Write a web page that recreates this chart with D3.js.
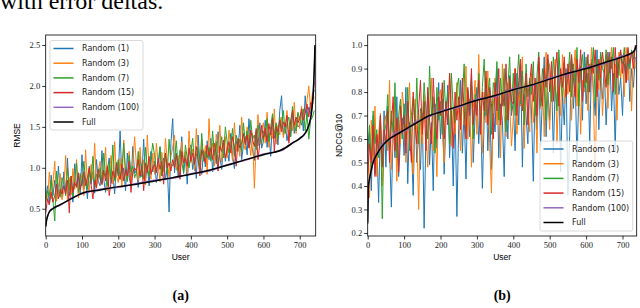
<!DOCTYPE html>
<html>
<head>
<meta charset="utf-8">
<script src="https://cdn.jsdelivr.net/npm/d3@7"></script>
<style>
body { margin: 0; background: #fff; }
svg { display: block; }
</style>
</head>
<body>
<div id="fig"></div>
<script>
// users, sorted by the error of the full model (sampled every 5th user)
var usersA = d3.range(0, 745, 5);
var usersB = d3.range(0, 740, 5);

var names = ["Random (1)", "Random (3)", "Random (7)", "Random (15)", "Random (100)", "Full"];
var colors = ["#1f77b4", "#ff7f0e", "#2ca02c", "#d62728", "#9467bd", "#000000"];

var xTicks = [0, 100, 200, 300, 400, 500, 600, 700];
var rmseTicks = [0.5, 1.0, 1.5, 2.0, 2.5];
var ndcgTicks = [0.2, 0.3, 0.4, 0.5, 0.6, 0.7, 0.8, 0.9, 1.0];

// ---- (a) RMSE ----
var fullUsersA = [0, 3, 6, 10, 20, 40, 70, 100, 150, 200, 250, 300, 350, 400, 450, 500, 550, 600, 650, 680, 700, 715, 725, 732, 737, 740, 742];
var fullRmse   = [0.28, 0.37, 0.42, 0.46, 0.50, 0.55, 0.62, 0.69, 0.73, 0.77, 0.80, 0.84, 0.88, 0.92, 0.97, 1.03, 1.10, 1.16, 1.22, 1.30, 1.36, 1.42, 1.52, 1.66, 1.90, 2.20, 2.50];
var rmse100    = [0.29, 0.38, 0.41, 0.47, 0.51, 0.54, 0.63, 0.68, 0.74, 0.76, 0.81, 0.85, 0.87, 0.93, 0.96, 1.04, 1.09, 1.17, 1.21, 1.31, 1.35, 1.43, 1.51, 1.67, 1.89, 2.18, 2.48];

var rmse1 = [0.62,0.78,0.55,0.91,0.66,0.85,0.60,1.02,0.72,0.64,
  0.95,0.70,1.12,0.66,0.81,0.58,1.05,0.77,0.90,0.68,
  1.16,0.74,0.88,0.62,1.02,0.80,0.95,0.69,1.10,0.83,
  0.78,1.21,0.86,0.70,0.98,1.12,0.81,0.92,0.68,1.07,
  0.90,1.45,0.84,1.00,0.72,1.18,0.88,0.79,1.26,0.93,
  0.97,0.76,1.14,0.89,1.35,0.84,1.03,0.78,1.20,0.95,
  1.08,0.82,0.98,1.25,0.90,1.12,0.85,1.01,0.46,1.30,
  1.60,0.94,1.18,0.88,1.07,1.38,0.93,1.15,0.80,1.22,
  1.28,0.98,1.12,0.87,1.40,1.05,0.92,1.21,1.01,1.33,
  1.10,1.36,0.95,1.22,1.05,1.44,1.13,0.98,1.30,1.08,
  1.24,1.08,1.42,1.15,0.99,1.33,1.20,1.52,1.10,1.28,
  1.38,1.16,1.60,1.30,1.22,1.09,1.45,1.27,1.55,1.24,
  1.32,1.58,1.25,1.43,1.14,1.62,1.36,1.48,1.28,1.70,
  1.88,1.40,1.55,1.33,1.46,1.38,1.65,1.42,1.58,1.50,
  1.52,1.68,1.45,1.88,1.62,1.74,1.66,1.85,1.95];
var rmse3 = [0.70,0.58,0.95,0.62,0.82,1.08,0.59,0.76,0.93,0.61,
  0.72,1.15,0.60,0.88,0.67,0.99,0.74,1.10,0.63,0.85,
  0.91,0.66,1.22,0.78,0.72,1.04,0.86,1.30,0.75,0.96,
  1.08,0.79,0.93,1.25,0.72,0.88,1.15,0.80,1.32,0.90,
  0.82,1.12,0.76,1.34,0.95,0.85,1.20,0.79,1.05,1.38,
  1.02,0.84,1.25,0.92,1.10,0.79,1.40,0.96,0.86,1.18,
  0.92,1.30,1.05,0.83,1.19,0.95,1.36,1.08,0.89,1.14,
  1.25,1.40,0.97,1.15,0.88,1.32,1.04,1.20,0.93,1.45,
  1.06,1.23,0.96,1.48,1.12,0.99,1.35,1.10,1.27,0.92,
  1.60,1.12,1.30,1.02,1.41,1.18,1.52,1.07,1.25,1.38,
  1.12,1.46,1.25,1.08,1.55,1.20,1.36,1.14,1.62,1.30,
  1.22,1.50,1.35,1.15,1.42,0.75,1.30,1.65,1.28,1.46,
  1.55,1.30,1.68,1.25,1.44,1.36,1.72,1.29,1.52,1.40,
  1.62,1.37,1.50,1.70,1.33,1.58,1.45,1.80,1.42,1.66,
  1.48,1.75,1.58,1.68,1.82,2.00,1.70,1.92,1.85];
var rmse7 = [0.58,0.72,0.66,0.85,0.60,0.35,0.96,0.70,0.64,0.88,
  0.80,0.66,1.00,0.73,0.90,0.64,0.84,1.06,0.70,0.93,
  0.78,1.08,0.85,0.74,0.98,0.82,1.14,0.76,0.92,0.88,
  1.00,0.82,1.18,0.90,0.78,1.06,0.86,1.28,0.84,0.97,
  1.10,0.86,1.00,1.30,0.92,0.83,1.15,0.95,1.02,0.88,
  0.94,1.20,0.88,1.05,0.86,1.25,0.99,0.90,1.12,1.30,
  1.15,0.95,1.08,1.26,0.90,1.02,1.18,0.93,1.35,1.05,
  1.02,1.10,1.33,0.96,1.22,1.06,0.94,1.28,1.12,1.00,
  1.18,1.36,1.04,1.14,1.25,0.98,1.42,1.08,1.20,1.12,
  1.25,1.08,1.45,1.15,1.32,1.05,1.22,1.38,1.12,1.50,
  1.32,1.18,1.28,1.48,1.14,1.40,1.25,1.35,1.20,1.55,
  1.30,1.45,1.25,1.58,1.35,1.40,1.22,1.52,1.38,1.30,
  1.45,1.38,1.60,1.32,1.50,1.66,1.40,1.55,1.35,1.62,
  1.48,1.70,1.42,1.55,1.62,1.38,1.75,1.50,1.45,1.68,
  1.60,1.52,1.72,1.45,1.66,1.35,1.58,1.62,1.70];
var rmse15 = [0.45,0.62,0.55,0.70,0.58,0.66,0.80,0.62,0.74,0.68,
  0.78,0.68,0.85,0.45,0.90,0.70,0.82,0.76,0.94,0.73,
  0.82,0.95,0.78,0.88,1.00,0.80,0.62,0.85,0.76,0.98,
  0.86,0.80,0.97,0.84,1.02,0.66,0.82,0.96,0.88,1.05,
  0.92,0.86,1.04,0.84,0.98,0.90,1.08,0.70,0.95,1.00,
  0.96,1.10,0.90,1.02,0.72,1.06,0.94,1.14,0.92,1.00,
  1.04,0.94,1.12,0.98,1.08,0.80,1.18,1.00,1.06,0.96,
  1.10,1.00,1.16,1.04,0.86,1.20,1.06,1.12,1.02,1.24,
  1.08,1.18,1.04,1.26,1.10,0.90,1.22,1.14,1.06,1.28,
  1.14,1.24,1.10,1.30,1.16,0.96,1.26,1.20,1.34,1.12,
  1.22,1.32,1.18,1.38,1.26,1.02,1.36,1.24,1.30,1.42,
  1.28,1.40,1.24,1.46,1.34,1.26,1.48,1.10,1.30,1.52,
  1.36,1.48,1.32,1.54,1.40,1.60,1.20,1.50,1.44,1.58,
  1.44,1.56,1.50,1.64,1.30,1.58,1.70,1.52,1.62,1.55,
  1.60,1.72,1.58,1.66,1.78,1.62,1.80,1.75,2.05];

// ---- (b) NDCG@10 ----
var fullUsersB = [0, 2, 5, 10, 15, 25, 40, 55, 80, 100, 130, 170, 200, 250, 300, 350, 400, 450, 500, 550, 600, 650, 700, 720, 732, 738];
var fullNdcg   = [0.24, 0.40, 0.43, 0.47, 0.50, 0.535, 0.57, 0.595, 0.62, 0.638, 0.665, 0.70, 0.715, 0.74, 0.765, 0.785, 0.81, 0.83, 0.855, 0.88, 0.90, 0.925, 0.95, 0.962, 0.975, 1.0];
var ndcg100    = [0.25, 0.39, 0.44, 0.46, 0.51, 0.53, 0.58, 0.59, 0.63, 0.632, 0.672, 0.695, 0.72, 0.735, 0.77, 0.78, 0.815, 0.826, 0.86, 0.876, 0.905, 0.92, 0.955, 0.958, 0.978, 0.995];

var ndcg1 = [0.52,0.63,0.38,0.70,0.45,0.58,0.33,0.66,0.49,0.72,
  0.48,0.74,0.55,0.31,0.66,0.52,0.78,0.44,0.60,0.69,
  0.53,0.82,0.41,0.67,0.58,0.36,0.73,0.50,0.63,0.47,
  0.71,0.22,0.62,0.80,0.49,0.67,0.38,0.75,0.56,0.84,
  0.60,0.77,0.45,0.68,0.83,0.52,0.70,0.40,0.74,0.27,
  0.66,0.85,0.54,0.72,0.43,0.80,0.61,0.88,0.50,0.70,
  0.82,0.58,0.74,0.39,0.68,0.86,0.55,0.77,0.47,0.71,
  0.63,0.90,0.52,0.75,0.68,0.44,0.81,0.60,0.87,0.70,
  0.76,0.55,0.88,0.66,0.92,0.48,0.79,0.70,0.58,0.85,
  0.72,0.42,0.83,0.64,0.90,0.57,0.78,0.95,0.61,0.80,
  0.68,0.88,0.54,0.82,0.74,0.93,0.46,0.79,0.66,0.90,
  0.36,0.62,0.95,0.73,0.86,0.50,0.80,0.91,0.68,0.97,
  0.75,0.88,0.58,0.94,0.81,0.70,0.98,0.64,0.86,0.77,
  0.90,0.66,0.83,0.97,0.72,0.88,0.55,0.94,0.79,0.86,
  0.70,0.92,0.84,0.98,0.76,0.90,0.82,0.95];
var ndcg3 = [0.60,0.35,0.68,0.50,0.74,0.44,0.62,0.71,0.40,0.66,
  0.70,0.55,0.85,0.47,0.64,0.76,0.42,0.68,0.58,0.80,
  0.72,0.50,0.66,0.84,0.59,0.45,0.77,0.62,0.30,0.70,
  0.58,0.79,0.64,0.48,0.73,0.86,0.55,0.69,0.44,0.78,
  0.81,0.63,0.50,0.76,0.68,0.88,0.57,0.73,0.62,0.84,
  0.70,0.55,0.82,0.66,0.91,0.60,0.77,0.48,0.73,0.85,
  0.62,0.96,0.71,0.54,0.80,0.67,0.89,0.58,0.37,0.74,
  0.86,0.66,0.78,0.52,0.92,0.70,0.61,0.84,0.75,0.57,
  0.69,0.90,0.62,0.80,0.74,0.95,0.56,0.84,0.71,0.63,
  0.88,0.67,0.79,0.54,0.92,0.73,0.85,0.61,0.97,0.76,
  0.64,0.89,0.77,0.94,0.58,0.82,0.70,0.96,0.75,0.86,
  0.79,0.93,0.68,0.87,0.98,0.74,0.90,0.62,0.85,0.80,
  0.92,0.72,0.86,0.99,0.78,0.43,0.88,0.81,0.95,0.70,
  0.84,0.96,0.73,0.90,0.99,0.80,0.92,0.68,0.97,0.86,
  0.93,0.78,0.99,0.85,0.94,0.72,0.97,0.90];
var ndcg7 = [0.55,0.66,0.48,0.72,0.58,0.64,0.52,0.70,0.26,0.62,
  0.66,0.79,0.56,0.72,0.63,0.84,0.52,0.70,0.77,0.60,
  0.75,0.60,0.82,0.55,0.70,0.78,0.64,0.86,0.58,0.73,
  0.66,0.84,0.72,0.60,0.91,0.70,0.78,0.54,0.82,0.68,
  0.76,0.62,0.85,0.70,0.80,0.58,0.88,0.73,0.67,0.82,
  0.86,0.68,0.78,0.92,0.64,0.81,0.72,0.85,0.60,0.79,
  0.72,0.88,0.65,0.82,0.94,0.70,0.79,0.86,0.62,0.84,
  0.80,0.93,0.68,0.86,0.74,0.90,0.63,0.82,0.95,0.72,
  0.88,0.70,0.84,0.96,0.75,0.89,0.66,0.92,0.78,0.86,
  0.79,0.93,0.70,0.87,0.97,0.74,0.90,0.82,0.68,0.94,
  0.91,0.76,0.95,0.83,0.72,0.98,0.85,0.78,0.93,0.80,
  0.86,0.97,0.78,0.92,0.84,0.99,0.74,0.90,0.96,0.82,
  0.95,0.80,0.92,0.88,0.99,0.76,0.94,0.85,0.97,0.90,
  0.88,0.98,0.83,0.95,0.90,0.99,0.79,0.94,0.87,0.97,
  0.92,0.99,0.86,0.96,0.90,0.98,0.94,0.99];
var ndcg15 = [0.45,0.58,0.50,0.66,0.44,0.62,0.55,0.70,0.48,0.64,
  0.58,0.72,0.50,0.66,0.78,0.55,0.69,0.46,0.74,0.62,
  0.70,0.54,0.76,0.62,0.50,0.80,0.66,0.58,0.73,0.85,
  0.62,0.76,0.55,0.82,0.68,0.58,0.86,0.71,0.60,0.78,
  0.70,0.84,0.60,0.76,0.66,0.88,0.72,0.56,0.80,0.68,
  0.78,0.64,0.86,0.72,0.60,0.82,0.70,0.90,0.66,0.76,
  0.70,0.85,0.62,0.80,0.72,0.89,0.66,0.82,0.75,0.60,
  0.84,0.72,0.90,0.66,0.80,0.74,0.92,0.68,0.86,0.76,
  0.75,0.90,0.70,0.85,0.94,0.72,0.80,0.88,0.66,0.84,
  0.92,0.76,0.86,0.70,0.95,0.80,0.74,0.90,0.82,0.96,
  0.80,0.93,0.76,0.88,0.97,0.74,0.90,0.82,0.95,0.78,
  0.92,0.80,0.96,0.86,0.78,0.94,0.84,0.98,0.76,0.90,
  0.84,0.96,0.80,0.92,0.88,0.98,0.78,0.94,0.86,0.97,
  0.90,0.82,0.97,0.88,0.95,0.80,0.99,0.86,0.93,0.98,
  0.88,0.96,0.84,0.99,0.92,0.97,0.90,1.00];

var W = 640, H = 308;
var svg = d3.select("#fig").append("svg")
  .attr("width", W).attr("height", H)
  .style("font-family", "'Liberation Sans', sans-serif");

// bit of the paper text above the figure, clipped by the page edge
svg.append("text").text("with error deltas.")
  .attr("x", 0).attr("y", 9)
  .style("font-family", "'Liberation Serif', serif")
  .style("font-size", "24px");

function drawPanel(p) {
  var x = d3.scaleLinear().domain(p.xDomain).range([p.left, p.right]);
  var y = d3.scaleLinear().domain(p.yDomain).range([p.bottom, p.top]);
  var g = svg.append("g");

  g.append("clipPath").attr("id", p.id + "clip")
    .append("rect")
    .attr("x", p.left).attr("y", p.top)
    .attr("width", p.right - p.left).attr("height", p.bottom - p.top);

  var plot = g.append("g").attr("clip-path", "url(#" + p.id + "clip)");

  var line = d3.line()
    .x(function (d) { return x(d[0]); })
    .y(function (d) { return y(d[1]); });

  // noisy random-sampling runs
  p.noisy.forEach(function (vals, i) {
    plot.append("path")
      .datum(p.users.map(function (u, k) { return [u, vals[k]]; }))
      .attr("d", line)
      .attr("fill", "none")
      .attr("stroke", colors[i])
      .attr("stroke-width", 1)
      .attr("stroke-linejoin", "miter");
  });

  var smooth = d3.line()
    .curve(d3.curveMonotoneX)
    .x(function (d) { return x(d[0]); })
    .y(function (d) { return y(d[1]); });

  plot.append("path")
    .datum(p.fullUsers.map(function (u, k) { return [u, p.r100[k]]; }))
    .attr("d", smooth)
    .attr("fill", "none").attr("stroke", colors[4]).attr("stroke-width", 1.2);

  plot.append("path")
    .datum(p.fullUsers.map(function (u, k) { return [u, p.full[k]]; }))
    .attr("d", smooth)
    .attr("fill", "none").attr("stroke", colors[5]).attr("stroke-width", 1.5);

  // axes
  var xAxis = g.append("g")
    .attr("transform", "translate(0," + p.bottom + ")")
    .call(d3.axisBottom(x).tickValues(xTicks).tickFormat(d3.format("d")).tickSize(3.5).tickPadding(2));
  var yAxis = g.append("g")
    .attr("transform", "translate(" + p.left + ",0)")
    .call(d3.axisLeft(y).tickValues(p.yTicks).tickFormat(d3.format(".1f")).tickSize(3.5).tickPadding(2));
  [xAxis, yAxis].forEach(function (a) {
    a.select(".domain").remove();
    a.selectAll("line").attr("stroke", "#000").attr("stroke-width", 0.8);
    a.selectAll("text")
      .style("font-family", "'Liberation Serif', serif")
      .style("font-size", "8.5px")
      .attr("fill", "#222");
  });

  // frame
  g.append("rect")
    .attr("x", p.left).attr("y", p.top)
    .attr("width", p.right - p.left).attr("height", p.bottom - p.top)
    .attr("fill", "none").attr("stroke", "#000").attr("stroke-width", 0.8);

  // axis labels
  g.append("text").text("User")
    .attr("x", (p.left + p.right) / 2).attr("y", 260)
    .attr("text-anchor", "middle").style("font-size", "8.5px");
  g.append("text").text(p.ylabel)
    .attr("transform", "translate(" + p.ylabelX + "," + (p.top + p.bottom) / 2 + ") rotate(-90)")
    .attr("text-anchor", "middle").style("font-size", "8.5px");

  // caption
  g.append("text").text(p.caption)
    .attr("x", (p.left + p.right) / 2).attr("y", 300)
    .attr("text-anchor", "middle")
    .style("font-family", "'Liberation Serif', serif")
    .style("font-weight", "bold")
    .style("font-size", "14px");

  // legend
  var lg = g.append("g");
  lg.append("rect")
    .attr("x", p.leg.x).attr("y", p.leg.y)
    .attr("width", p.leg.w).attr("height", p.leg.h)
    .attr("rx", 2)
    .attr("fill", "#fff").attr("fill-opacity", 0.8)
    .attr("stroke", "#d0d0d0").attr("stroke-width", 0.8);
  names.forEach(function (n, i) {
    var yy = p.leg.y + 8 + i * 14.7;
    lg.append("line")
      .attr("x1", p.leg.x + 3.5).attr("x2", p.leg.x + 23.5)
      .attr("y1", yy).attr("y2", yy)
      .attr("stroke", colors[i]).attr("stroke-width", 1.5);
    lg.append("text").text(n)
      .attr("x", p.leg.x + 32).attr("y", yy).attr("dy", "0.35em")
      .style("font-family", "'DejaVu Sans', sans-serif")
      .style("font-size", "8px")
      .attr("fill", "#222");
  });
}

drawPanel({
  id: "a", left: 45.7, right: 315.7, top: 35, bottom: 236,
  xDomain: [0, 744], yDomain: [0.167, 2.622], yTicks: rmseTicks,
  users: usersA, noisy: [rmse1, rmse3, rmse7, rmse15],
  fullUsers: fullUsersA, full: fullRmse, r100: rmse100,
  ylabel: "RMSE", ylabelX: 20, caption: "(a)",
  leg: { x: 50, y: 40.5, w: 93, h: 89.5 }
});

drawPanel({
  id: "b", left: 367.7, right: 636.7, top: 35, bottom: 236,
  xDomain: [0, 739], yDomain: [0.187, 1.043], yTicks: ndcgTicks,
  users: usersB, noisy: [ndcg1, ndcg3, ndcg7, ndcg15],
  fullUsers: fullUsersB, full: fullNdcg, r100: ndcg100,
  ylabel: "NDCG@10", ylabelX: 342.3, caption: "(b)",
  leg: { x: 540, y: 141, w: 92.7, h: 90 }
});
</script>
</body>
</html>
